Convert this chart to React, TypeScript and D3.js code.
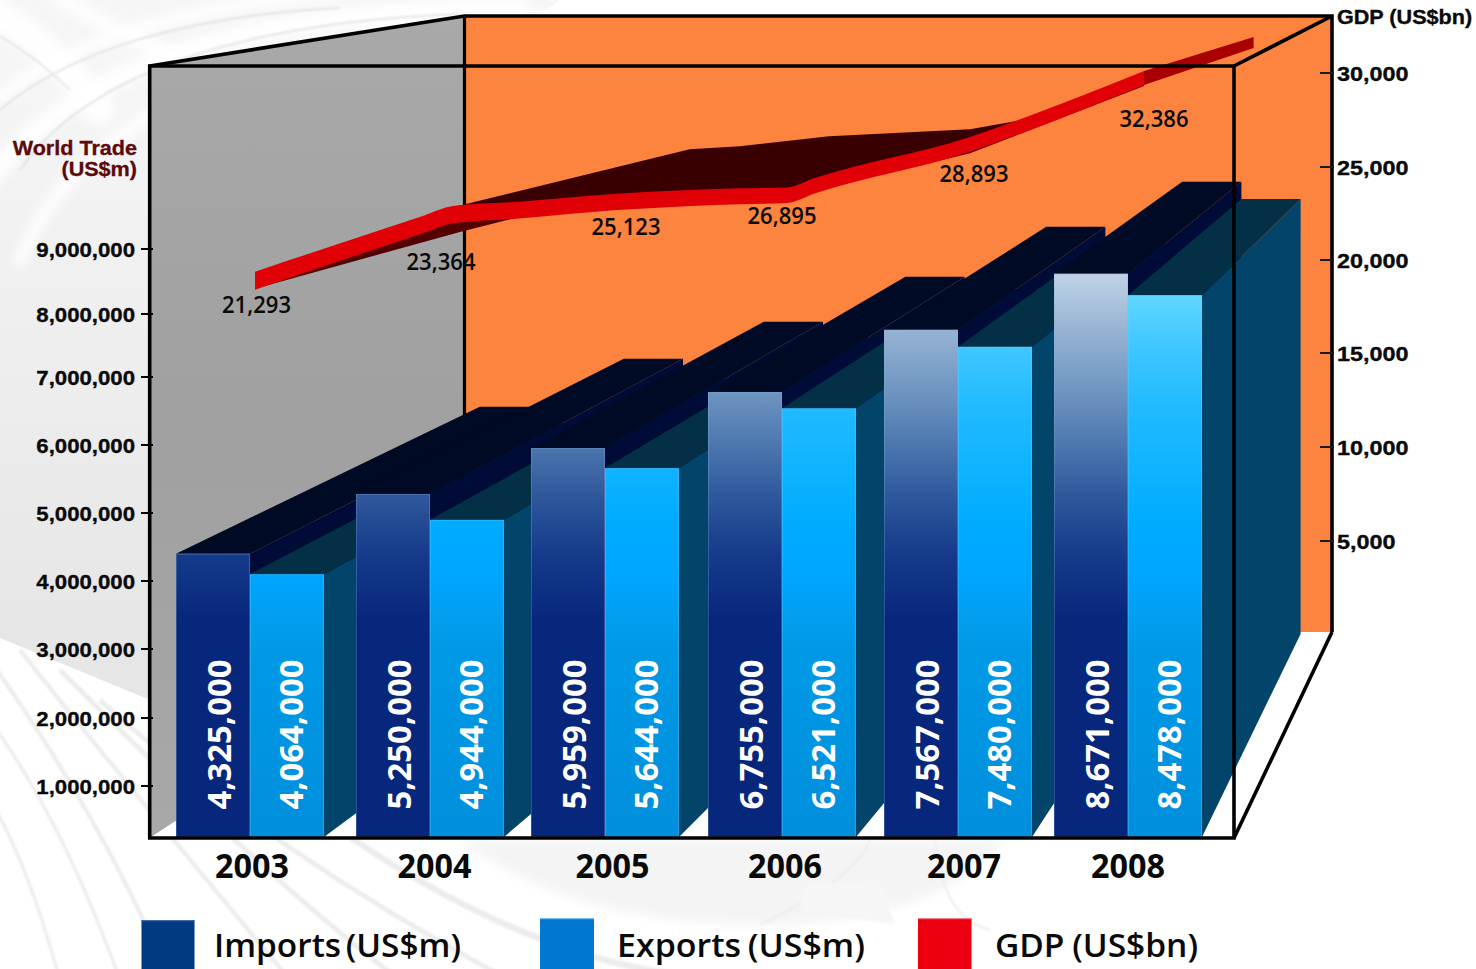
import React from "react";
import * as d3 from "d3";

const years = [2003, 2004, 2005, 2006, 2007, 2008];
const importLabels = [4325000, 5250000, 5959000, 6755000, 7567000, 8671000];
const exportLabels = [4064000, 4944000, 5644000, 6521000, 7480000, 8478000];
// Heights of the bars as they read against the left axis (the picture does not plot the labels exactly)
const importsDrawn = [4400000, 5280000, 5956000, 6780000, 7750000, 8620000];
const exportsDrawn = [4100000, 4900000, 5660000, 6540000, 7480000, 8290000];
const gdpLabels = [21293, 23364, 25123, 26895, 28893, 32386];

const leftTicks = [1, 2, 3, 4, 5, 6, 7, 8, 9].map((d) => d * 1000000);
const rightTicks = [5000, 10000, 15000, 20000, 25000, 30000];

// GDP ribbon centre line as read against the right axis
const ribbonYears = [2003, 2003.94, 2004.1, 2004.47, 2005, 2005.73, 2006, 2006.15, 2007, 2007.46, 2008, 2008.63];
const ribbonValues = [18889, 21934, 22441, 22681, 23109, 23429, 23483, 23990, 26207, 27756, 29733, 31629];
const shadowUnderYears = [2003, 2004.14, 2004.47];
const shadowUnderValues = [18461, 21506, 22307];
const shadowOverYears = [2004.1, 2005.44, 2005.73, 2006.23, 2007, 2007.46];
const shadowOverValues = [22842, 25940, 26100, 26634, 27008, 27756];
const shadowRightYears = [2006.6, 2007, 2008];
const shadowRightValues = [24790, 25726, 29306];

// Layout
const groupStarts = [176, 356, 531, 708, 884, 1054];
const yearLabelCentres = [252, 434.5, 612.5, 785, 964, 1128];
const gdpLabelX = [256.5, 441, 626, 782, 974, 1154];
const gdpLabelY = [313, 270, 235, 224, 181.7, 126.7];
const BAR_W = 74;
const BASE = 837;
const front = { l: 149.7, r: 1234, t: 66, b: 838 };
const back = { l: 464.5, r: 1332, t: 16, b: 632 };

const yLeft = d3.scaleLinear().domain(leftTicks).range([786, 718, 649, 581, 513, 445, 377, 314, 249]);
const yRight = d3.scaleLinear().domain(rightTicks).range([541, 447, 353, 260, 167, 73]);
const xGroup = d3.scaleOrdinal<number, number>().domain(years).range(groupStarts);
const xYear = d3.scaleLinear().domain(years).range([255, 435, 613, 787, 970, 1144]);
const ribbonAt = d3.scaleLinear().domain(ribbonYears).range(ribbonValues);
const ribbonThick = d3.scaleLinear().domain([2003, 2008, 2008.63]).range([18, 14, 11]);
const fmt = d3.format(",");

const depthX = (x: number) => 0.8 * x + 339;
const depthY = (y: number) => 0.8026 * y - 37.8;
const poly = (pts: number[][]) => "M" + pts.map((p) => p.join(",")).join("L") + "Z";

function Bar({ x, value, side, top, fill, edge }: { x: number; value: number; side: string; top: string; fill: string; edge: string }) {
  const y = yLeft(value);
  const x2 = x + BAR_W;
  return (
    <g>
      <path d={poly([[x2, BASE], [x2, y], [depthX(x2), depthY(y)], [depthX(x2), depthY(BASE)]])} fill={side} />
      <path d={poly([[x, y], [x2, y], [depthX(x2), depthY(y)], [depthX(x), depthY(y)]])} fill={top} />
      <rect x={x} y={y} width={BAR_W} height={BASE - y} fill={fill} />
      <rect x={x + 0.5} y={y + 0.5} width={BAR_W - 1} height={BASE - y - 1} fill="none" stroke={edge} strokeOpacity={0.3} />
    </g>
  );
}

const ribbonArea = d3
  .area<number>()
  .x((d) => xYear(d))
  .y0((d) => yRight(ribbonAt(d)) + ribbonThick(d) / 2)
  .y1((d) => yRight(ribbonAt(d)) - ribbonThick(d) / 2)
  .curve(d3.curveMonotoneX);

function shadow(ys: number[], vs: number[]) {
  return d3
    .area<number>()
    .x((d) => xYear(ys[d]))
    .y0((d) => yRight(ribbonAt(ys[d])))
    .y1((d) => yRight(vs[d]))(ys.map((_, i) => i)) as string;
}

const sansBold = "'Liberation Sans', Arial, sans-serif";
const openSans = "'Open Sans', 'Noto Sans', sans-serif";

function Background() {
  const arcs: [string, number, number][] = [
    ["M-20,190 C70,70 230,10 520,8", 20, 0.9],
    ["M20,260 C80,110 280,28 560,18", 14, 0.8],
    ["M-30,120 C60,40 180,8 330,-6", 12, 0.85],
    ["M-10,10 C40,40 70,70 100,110", 30, 0.9],
    ["M50,-10 C90,20 120,30 160,50", 16, 0.8],
  ];
  const stripes: [string, number][] = [
    ["M-10,660 C60,760 120,860 170,980", 2.5],
    ["M-10,720 C40,790 80,870 120,980", 2],
    ["M-10,800 C20,850 40,910 60,980", 2],
    ["M20,650 C90,740 190,860 290,980", 2.5],
    ["M60,670 C150,760 280,890 400,980", 3],
    ["M100,700 C210,800 360,900 500,975", 3],
    ["M340,830 C440,900 560,960 680,975", 4],
  ];
  return (
    <g>
      <rect width={1476} height={969} fill="#ffffff" />
      <path d="M0,0 L560,0 L464,70 L150,70 L150,700 L0,638 Z" fill="url(#bgLeft)" />
      <path d="M460,840 C540,900 640,925 760,925 C860,925 960,900 1005,840 Z" fill="#f4f4f4" filter="url(#bgBlur)" />
      <g filter="url(#bgBlur)" fill="none" stroke="#ffffff" strokeLinecap="round">
        {arcs.map(([d, w, o], i) => (
          <path key={i} d={d} strokeWidth={w} opacity={o} />
        ))}
      </g>
      <g fill="none" stroke="#dedede" opacity={0.8} filter="url(#bgBlur2)">
        <path d="M0,36 C40,60 60,80 70,90" strokeWidth={1.5} />
        <path d="M0,110 C70,50 190,15 340,8" strokeWidth={2} />
        <path d="M20,170 C90,70 250,22 460,14" strokeWidth={2} />
      </g>
      <g fill="none" stroke="#ececec" filter="url(#bgBlur2)">
        {stripes.map(([d, w], i) => (
          <path key={i} d={d} strokeWidth={w * 1.6} />
        ))}
        <path d="M760,925 C810,900 860,870 870,840" strokeWidth={2} />
        <path d="M800,910 L805,885 L880,880 L895,925 Z" fill="#f6f6f6" stroke="none" />
        <path d="M935,840 C940,880 950,920 990,930" strokeWidth={2} />
      </g>
    </g>
  );
}

export default function App() {
  const importStops: [number, string][] = [
    [274, "#c0d3e6"], [330, "#97b3d3"], [392, "#6d95c1"], [448, "#4a75ae"], [494, "#30599c"],
    [554, "#153b8b"], [620, "#07277d"], [837, "#07277d"],
  ];
  const exportStops: [number, string][] = [
    [295, "#60d6ff"], [347, "#3fc7ff"], [408, "#20baff"], [468, "#10b3ff"], [520, "#00acff"],
    [574, "#00a6ff"], [650, "#0099e6"], [837, "#008fdc"],
  ];
  const stops = (arr: [number, string][]) =>
    arr.map(([y, c], i) => <stop key={i} offset={(y - arr[0][0]) / (arr[arr.length - 1][0] - arr[0][0])} stopColor={c} />);
  const heavy = { stroke: "#0a0a0a", strokeWidth: 0.35 };

  return (
    <svg
      width={1476}
      height={969}
      viewBox="0 0 1476 969"
      style={{ position: "fixed", left: 0, top: 0, display: "block" }}
    >
      <defs>
        <linearGradient id="bgLeft" gradientUnits="userSpaceOnUse" x1="0" y1="60" x2="0" y2="640">
          <stop offset="0" stopColor="#f6f6f6" />
          <stop offset="0.5" stopColor="#eeeeee" />
          <stop offset="1" stopColor="#e6e6e6" />
        </linearGradient>
        <filter id="bgBlur" x="-10%" y="-10%" width="120%" height="120%">
          <feGaussianBlur stdDeviation="5" />
        </filter>
        <filter id="bgBlur2" x="-10%" y="-10%" width="120%" height="120%">
          <feGaussianBlur stdDeviation="1.2" />
        </filter>
        <linearGradient id="wall" gradientUnits="userSpaceOnUse" x1="0" y1="16" x2="0" y2="840">
          <stop offset="0" stopColor="#a9a9a9" />
          <stop offset="0.5" stopColor="#a0a0a0" />
          <stop offset="1" stopColor="#a8a8a8" />
        </linearGradient>
        <linearGradient id="impGrad" gradientUnits="userSpaceOnUse" x1="0" y1={importStops[0][0]} x2="0" y2={BASE}>
          {stops(importStops)}
        </linearGradient>
        <linearGradient id="expGrad" gradientUnits="userSpaceOnUse" x1="0" y1={exportStops[0][0]} x2="0" y2={BASE}>
          {stops(exportStops)}
        </linearGradient>
      </defs>

      <Background />

      {/* walls and floor */}
      <rect x={back.l} y={back.t} width={back.r - back.l} height={back.b - back.t} fill="#fc843f" />
      <path d={poly([[front.l, front.t], [back.l, back.t], [back.l, back.b], [front.l, front.b]])} fill="url(#wall)" />
      <path d={poly([[front.l, front.b], [front.r, front.b], [back.r, back.b], [back.l, back.b]])} fill="#ffffff" />

      {/* back frame */}
      <line x1={back.l} y1={back.t} x2={back.l} y2={back.b} stroke="#000" strokeWidth={3.2} />

      {/* GDP ribbon */}
      <path d={shadow(shadowUnderYears, shadowUnderValues)} fill="#520000" />
      <path d={shadow(shadowOverYears, shadowOverValues)} fill="#380000" />
      <path d={shadow(shadowRightYears, shadowRightValues)} fill="#520000" />
      <path d={ribbonArea(ribbonYears.filter((y) => y <= 2008)) as string} fill="#e00006" />
      <path d={ribbonArea(ribbonYears.filter((y) => y >= 2008)) as string} fill="#a80000" />

      {gdpLabels.map((v, i) => (
        <text
          key={v}
          x={gdpLabelX[i] - 34.5}
          y={gdpLabelY[i]}
          textLength={69}
          lengthAdjust="spacingAndGlyphs"
          fontFamily={openSans}
          fontWeight={600}
          fontSize={23}
          fill="#0a0a0a"
        >
          {fmt(v)}
        </text>
      ))}

      {/* bars */}
      {years.map((yr, i) => (
        <g key={yr}>
          <Bar x={xGroup(yr)} value={importsDrawn[i]} side="#000b38" top="#000a24" fill="url(#impGrad)" edge="#8fb0d8" />
          <Bar x={xGroup(yr) + BAR_W} value={exportsDrawn[i]} side="#03446b" top="#032f47" fill="url(#expGrad)" edge="#6fd0ff" />
          <text
            transform={`translate(${xGroup(yr) + 54.5},809.5) rotate(-90)`}
            textLength={150}
            lengthAdjust="spacingAndGlyphs"
            fontFamily={openSans}
            fontWeight={700}
            fontSize={33}
            fill="#ffffff"
          >
            {fmt(importLabels[i])}
          </text>
          <text
            transform={`translate(${xGroup(yr) + BAR_W + 52.5},809.5) rotate(-90)`}
            textLength={150}
            lengthAdjust="spacingAndGlyphs"
            fontFamily={openSans}
            fontWeight={700}
            fontSize={33}
            fill="#ffffff"
          >
            {fmt(exportLabels[i])}
          </text>
        </g>
      ))}

      {/* front frame */}
      <g stroke="#000" strokeWidth={3.6} fill="none" strokeLinejoin="miter">
        <path d={poly([[front.l, front.t], [front.r, front.t], [front.r, front.b], [front.l, front.b]])} />
        <path d={`M${front.l},${front.t}L${back.l},${back.t}L${back.r},${back.t}L${back.r},${back.b}`} />
        <line x1={front.r} y1={front.t} x2={back.r} y2={back.t} />
        <line x1={front.r} y1={front.b} x2={back.r} y2={back.b} />
      </g>

      {/* left axis */}
      {leftTicks.map((t) => (
        <g key={t}>
          <line x1={141} x2={153} y1={yLeft(t)} y2={yLeft(t)} stroke="#000" strokeWidth={2} />
          <text transform={`translate(135,${yLeft(t) + 7.5}) scale(1.11,1)`} textAnchor="end" fontFamily={sansBold} fontWeight={700} fontSize={20} fill="#0a0a0a" {...heavy}>
            {fmt(t)}
          </text>
        </g>
      ))}
      <g fontFamily={sansBold} fontWeight={700} fontSize={20} fill="#5c0a0a" stroke="#5c0a0a" strokeWidth={0.3} textAnchor="end">
        <text transform="translate(137,155) scale(1.08,1)">World Trade</text>
        <text transform="translate(137,176) scale(1.08,1)">(US$m)</text>
      </g>

      {/* right axis */}
      {rightTicks.map((t) => (
        <g key={t}>
          <line x1={1320} x2={1334} y1={yRight(t)} y2={yRight(t)} stroke="#1a1a1a" strokeWidth={2} />
          <text transform={`translate(1337,${yRight(t) + 7.5}) scale(1.17,1)`} fontFamily={sansBold} fontWeight={700} fontSize={20} fill="#0a0a0a" {...heavy}>
            {fmt(t)}
          </text>
        </g>
      ))}
      <text transform="translate(1337,24) scale(1.08,1)" fontFamily={sansBold} fontWeight={700} fontSize={20} fill="#0a0a0a" {...heavy}>
        GDP (US$bn)
      </text>

      {/* year labels */}
      {years.map((yr, i) => (
        <text
          key={yr}
          x={yearLabelCentres[i] - 37}
          y={877.5}
          textLength={74}
          lengthAdjust="spacingAndGlyphs"
          fontFamily={openSans}
          fontWeight={700}
          fontSize={34}
          fill="#0a0a0a"
        >
          {yr}
        </text>
      ))}

      {/* legend */}
      <rect x={141.5} y={920} width={53} height={49} fill="#003a80" />
      <rect x={540} y={918} width={54} height={51} fill="#0078d0" />
      <rect x={918} y={918} width={53.5} height={51} fill="#ec0010" />
      <rect x={141.5} y={920} width={53} height={1.2} fill="#3c6ca8" />
      <rect x={540} y={918} width={54} height={1.2} fill="#7dbcee" />
      <rect x={918} y={918} width={53.5} height={1.2} fill="#f47e88" />
      <g fontFamily={openSans} fontWeight={600} fontSize={33} fill="#0a0a0a">
        <text x={214} y={956.5} textLength={247} lengthAdjust="spacingAndGlyphs" wordSpacing={-4}>Imports (US$m)</text>
        <text x={617} y={956.5} textLength={248} lengthAdjust="spacingAndGlyphs" wordSpacing={-2}>Exports (US$m)</text>
        <text x={995} y={956.5} textLength={203} lengthAdjust="spacingAndGlyphs" wordSpacing={-1}>GDP (US$bn)</text>
      </g>
    </svg>
  );
}
